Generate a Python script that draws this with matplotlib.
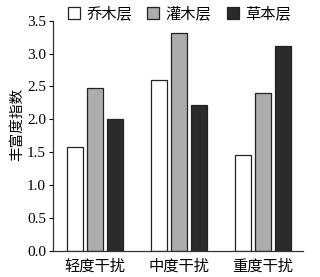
import matplotlib
matplotlib.use("Agg")
import matplotlib.pyplot as plt
import numpy as np

categories = ["轻度干扰", "中度干扰", "重度干扰"]
series_names = ["乔木层", "灌木层", "草本层"]
tree = [1.58, 2.59, 1.45]
shrub = [2.48, 3.32, 2.40]
herb = [2.00, 2.22, 3.11]
yticks = [0.0, 0.5, 1.0, 1.5, 2.0, 2.5, 3.0, 3.5]

cjk = ["Noto Sans CJK SC", "DejaVu Sans"]
serif = ["Liberation Serif", "DejaVu Serif"]

fig = plt.figure(figsize=(3.2, 2.77), dpi=100)
ax = fig.add_axes([53/320, 1-250.5/277, 250/320, (250.5-20.7)/277])

x = np.arange(len(categories))
w = 0.19
step = 0.238
colors = ["#ffffff", "#acacac", "#2b2b2b"]
for i, (vals, c, name) in enumerate(zip([tree, shrub, herb], colors, series_names)):
    ax.bar(x + (i-1)*step, vals, width=w, color=c, edgecolor="#222222",
           linewidth=0.9, label=name)

ax.set_xlim(-0.5, 2.48)
ax.set_ylim(0, 3.5)
ax.set_yticks(yticks)
ax.set_yticklabels([f"{v:.1f}" for v in yticks], fontfamily=serif, fontsize=11)
ax.set_xticks(x)
ax.set_xticklabels(categories, fontfamily=cjk, fontsize=11)
ax.tick_params(axis="x", length=0, pad=5)
ax.tick_params(axis="y", length=3, width=0.8, pad=2, direction="out")
for s in ["top", "right"]:
    ax.spines[s].set_visible(False)
for s in ["left", "bottom"]:
    ax.spines[s].set_linewidth(0.9)
    ax.spines[s].set_color("#333333")

ax.set_ylabel("丰富度指数", fontfamily=cjk, fontsize=10.5)
ax.yaxis.set_label_coords(-0.115, 0.55)

leg = fig.legend(loc="center", bbox_to_anchor=(0.56, 1-14/277), ncol=3, frameon=False,
                 prop={"family": cjk, "size": 11}, handlelength=0.8, handleheight=0.8,
                 handletextpad=0.4, columnspacing=1.0, borderaxespad=0)

fig.savefig("out.png", dpi=100, facecolor="white")
